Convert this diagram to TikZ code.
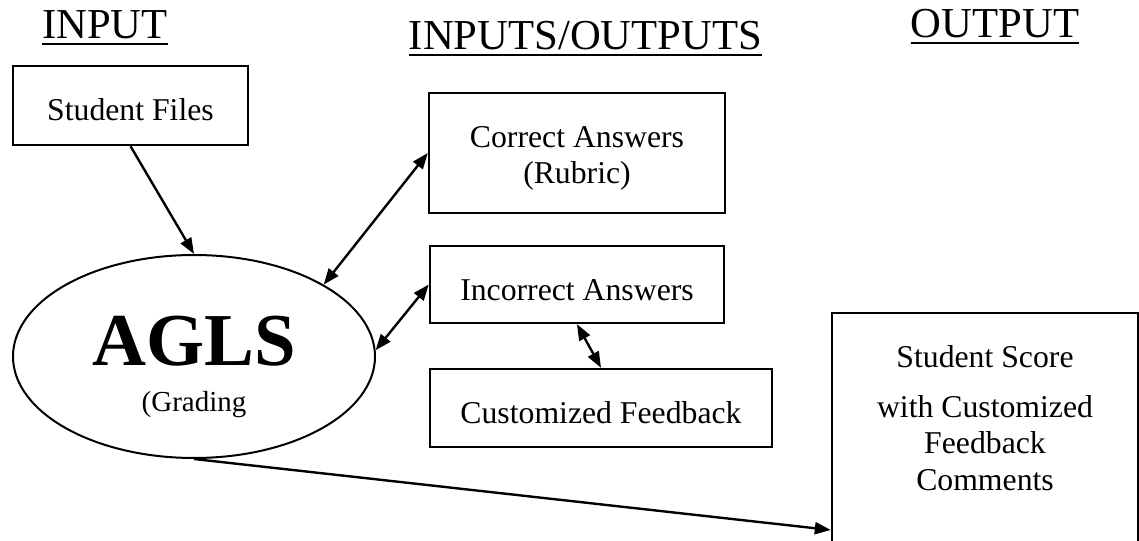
\documentclass[tikz,border=0pt]{standalone}
\usepackage{fontspec}
\setmainfont{Liberation Serif}
\usepackage{tikz}
\usetikzlibrary{arrows.meta, positioning, shapes.geometric}
\newcommand\tall{\rule{0pt}{23pt}}

\begin{document}
\begin{tikzpicture}[x=0.75pt,y=-0.75pt,
  box/.style={draw,line width=1.8pt,inner sep=0pt,align=center,font=\fontsize{23.8}{27.4}\selectfont},
  head/.style={inner sep=0pt,anchor=base,font=\fontsize{32}{36}\selectfont},
  bar/.style={line width=1.6pt},
  link/.style={line width=1.8pt,-{Triangle[length=12pt,width=9pt]}},
  twoway/.style={line width=1.8pt,{Triangle[length=12pt,width=9pt]}-{Triangle[length=12pt,width=9pt]}}]
\useasboundingbox (0,0) rectangle (1139,541);
\clip (0,0) rectangle (1139,541);

\node[head] (IN) at (105,39) {INPUT};
\node[head] (IO) at (585.5,50) {INPUTS/OUTPUTS};
\node[head] (OUT) at (995,38) {OUTPUT};
\draw[bar] ([yshift=-3.5pt]IN.base west) -- ([yshift=-3.5pt]IN.base east);
\draw[bar] ([yshift=-3.8pt]IO.base west) -- ([yshift=-3.8pt]IO.base east);
\draw[bar] ([yshift=-3.5pt]OUT.base west) -- ([yshift=-3.5pt]OUT.base east);

\node[box,minimum width=176.25pt,minimum height=59.25pt] (F) at (130.5,105.5) {\tall Student Files};
\node[box,ellipse,line width=1.5pt,minimum width=271.5pt,minimum height=152.25pt,font=\fontsize{21.75}{34.5}\selectfont] (A) at (194,356.5)
  {{\fontsize{56}{34.5}\selectfont\bfseries\rule{0pt}{52pt}AGLS}\\(Grading};
\node[box,minimum width=222pt,minimum height=90pt] (C) at (577,153) {\rule{0pt}{24pt}Correct Answers\\(Rubric)};
\node[box,minimum width=220.5pt,minimum height=57.75pt] (I) at (577,284.5) {\rule{0pt}{24pt}Incorrect Answers};
\node[box,minimum width=256.5pt,minimum height=58.5pt] (CF) at (601,408) {\tall Customized Feedback};
\node[box,anchor=north,minimum width=229.5pt,inner ysep=24pt] (S) at (985,312)
  {Student Score\\[10pt]with Customized\\Feedback\\Comments\\[10pt]~};

\draw[link] (F.south) -- (A.north);
\draw[twoway] (A.29) -- (C.west);
\draw[twoway] (A.2) -- (I.west);
\draw[twoway] (I.south) -- (CF.north);
\draw[link] (A.south) -- ([yshift=-163.5pt]S.north west);
\end{tikzpicture}
\end{document}
